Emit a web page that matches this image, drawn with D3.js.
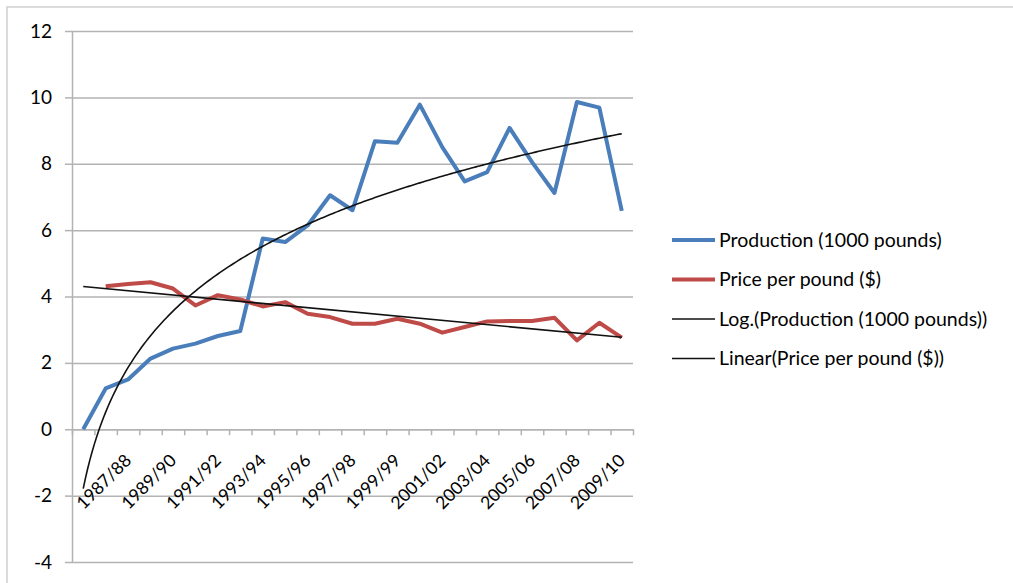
<!DOCTYPE html>
<html>
<head>
<meta charset="utf-8">
<script src="https://cdnjs.cloudflare.com/ajax/libs/d3/7.8.5/d3.min.js"></script>
<style>
  body { margin: 0; background: #fff; }
  text { font-family: Lato, "Open Sans", sans-serif; fill: #000; }
</style>
</head>
<body>
<div id="chart"></div>
<script>
// categories (first row has no label in the source sheet)
var seasons = ["", "1986/87", "1987/88", "1988/89", "1989/90", "1990/91", "1991/92",
    "1992/93", "1993/94", "1994/95", "1995/96", "1996/97", "1997/98", "1998/99",
    "1999/99", "2000/01", "2001/02", "2002/03", "2003/04", "2004/05", "2005/06",
    "2006/07", "2007/08", "2008/09", "2009/10"];

var production = [0, 1.23, 1.5, 2.13, 2.43, 2.58, 2.81, 2.96, 5.75, 5.64, 6.14, 7.05,
    6.6, 8.68, 8.63, 9.78, 8.5, 7.47, 7.75, 9.08, 8.05, 7.12, 9.86, 9.69, 6.58];

var price = [null, 4.31, 4.38, 4.43, 4.24, 3.73, 4.04, 3.91, 3.7, 3.83, 3.48, 3.38,
    3.18, 3.18, 3.33, 3.18, 2.91, 3.08, 3.25, 3.26, 3.26, 3.36, 2.68, 3.21, 2.76];

var yTicks = [-4, -2, 0, 2, 4, 6, 8, 10, 12];

var legendNames = ["Production (1000 pounds)", "Price per pound ($)",
    "Log.(Production (1000 pounds))", "Linear(Price per pound ($))"];

var blue = "#4a7ebb", red = "#be4b48";

var width = 1013, height = 583;
var plotL = 72, plotR = 633, plotT = 31, plotB = 562;

var svg = d3.select("#chart").append("svg")
    .attr("width", width)
    .attr("height", height);

// outer chart frame
svg.append("rect")
    .attr("x", 7).attr("y", 7)
    .attr("width", 1020).attr("height", 600)
    .attr("fill", "none")
    .attr("stroke", "#cfcfcf")
    .attr("stroke-width", 1.5);

var x = d3.scaleBand().domain(d3.range(seasons.length)).range([plotL, plotR]);
var xEdge = d3.scaleLinear().domain([0, seasons.length]).range([plotL, plotR]);
var y = d3.scaleLinear().domain([-4, 12]).range([plotB, plotT]);
function cx(i) { return x(i) + x.bandwidth() / 2; }

// gridlines
var grid = svg.append("g")
    .attr("transform", "translate(" + plotL + ",0)")
    .call(d3.axisLeft(y).tickValues(yTicks).tickSize(-(plotR - plotL)).tickFormat(""));
grid.select(".domain").remove();
grid.selectAll("line").attr("stroke", "#b3b3b3").attr("stroke-width", 1.5);

// y axis
var yAxis = svg.append("g")
    .attr("transform", "translate(" + plotL + ",0)")
    .call(d3.axisLeft(y).tickValues(yTicks).tickSize(7).tickSizeOuter(0).tickPadding(13)
        .tickFormat(function (d) { return String(d); }));
yAxis.select(".domain").attr("stroke", "#b3b3b3").attr("stroke-width", 1.5);
yAxis.selectAll("line").attr("stroke", "#b3b3b3").attr("stroke-width", 1.5);
yAxis.selectAll("text")
    .style("font-family", "Lato, sans-serif")
    .style("font-size", "19px")
    .attr("fill", "#000");

// x axis (category boundaries)
var xAxis = svg.append("g")
    .attr("transform", "translate(0," + y(0) + ")")
    .call(d3.axisBottom(xEdge).tickValues(d3.range(seasons.length + 1)).tickSize(6).tickSizeOuter(0).tickFormat(""));
xAxis.select(".domain").attr("stroke", "#b3b3b3").attr("stroke-width", 1.5);
xAxis.selectAll("line").attr("stroke", "#b3b3b3").attr("stroke-width", 1.5);

svg.append("g").selectAll("text")
    .data(seasons.map(function (d, i) { return { label: d, i: i }; })
        .filter(function (d) { return d.i % 2 === 0; }))
    .enter().append("text")
    .attr("transform", function (d) { return "translate(" + cx(d.i) + "," + (y(0) + 28) + ") rotate(-45)"; })
    .attr("text-anchor", "end")
    .attr("dy", "0.35em")
    .style("font-size", "17.5px")
    .text(function (d) { return d.label; });

// trendlines: Excel style, x = 1..n
var n = seasons.length;
var logPts = production.map(function (v, i) { return [Math.log(i + 1), v]; });
var lm = d3.mean(logPts, function (d) { return d[0]; }), lv = d3.mean(logPts, function (d) { return d[1]; });
var la = d3.sum(logPts, function (d) { return (d[0] - lm) * (d[1] - lv); }) /
    d3.sum(logPts, function (d) { return (d[0] - lm) * (d[0] - lm); });
var lb = lv - la * lm;

var linPts = [];
price.forEach(function (v, i) { if (v != null) linPts.push([i + 1, v]); });
var pm = d3.mean(linPts, function (d) { return d[0]; }), pv = d3.mean(linPts, function (d) { return d[1]; });
var pa = d3.sum(linPts, function (d) { return (d[0] - pm) * (d[1] - pv); }) /
    d3.sum(linPts, function (d) { return (d[0] - pm) * (d[0] - pm); });
var pb = pv - pa * pm;

var line = d3.line()
    .defined(function (d) { return d[1] != null; })
    .x(function (d) { return cx(d[0]); })
    .y(function (d) { return y(d[1]); });

svg.append("path")
    .datum(production.map(function (v, i) { return [i, v]; }))
    .attr("d", line)
    .attr("fill", "none").attr("stroke", blue).attr("stroke-width", 4)
    .attr("stroke-linejoin", "round");

svg.append("path")
    .datum(price.map(function (v, i) { return [i, v]; }))
    .attr("d", line)
    .attr("fill", "none").attr("stroke", red).attr("stroke-width", 4)
    .attr("stroke-linejoin", "round");

var logCurve = d3.range(0, n - 1 + 0.001, 0.1).map(function (t) {
    return [t, la * Math.log(t + 1) + lb];
});
var smooth = d3.line()
    .x(function (d) { return x(0) + x.bandwidth() * (d[0] + 0.5); })
    .y(function (d) { return y(d[1]); });

svg.append("path")
    .datum(logCurve)
    .attr("d", smooth)
    .attr("fill", "none").attr("stroke", "#111").attr("stroke-width", 1.6);

svg.append("path")
    .datum([[0, pa * 1 + pb], [n - 1, pa * n + pb]])
    .attr("d", smooth)
    .attr("fill", "none").attr("stroke", "#111").attr("stroke-width", 1.6);

// legend
var legend = svg.append("g").selectAll("g")
    .data(legendNames)
    .enter().append("g")
    .attr("transform", function (d, i) { return "translate(672," + (240 + i * 39.5) + ")"; });

legend.append("line")
    .attr("x1", 0).attr("x2", 43)
    .attr("stroke", function (d, i) { return i === 0 ? blue : i === 1 ? red : "#111"; })
    .attr("stroke-width", function (d, i) { return i < 2 ? 4 : 1.6; });

legend.append("text")
    .attr("x", 47)
    .attr("dy", "0.35em")
    .style("font-size", "19.5px")
    .text(function (d) { return d; });
</script>
</body>
</html>
